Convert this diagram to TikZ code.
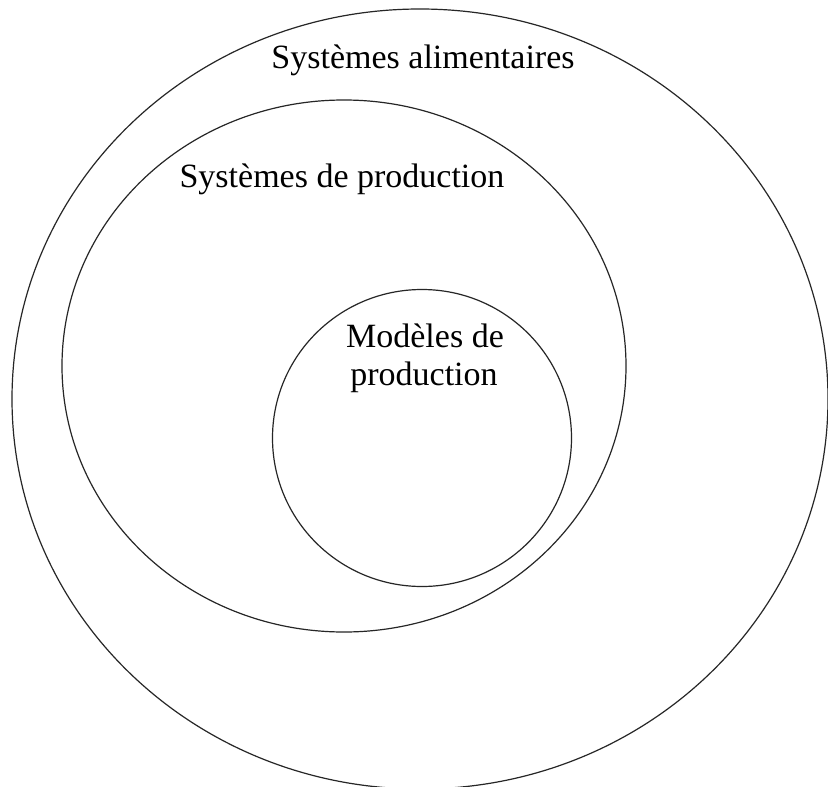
\documentclass[tikz,border=0pt]{standalone}
\usepackage{fontspec}
\setmainfont{Liberation Serif}
\usetikzlibrary{shapes.geometric}
\begin{document}
\begin{tikzpicture}[x=1pt,y=-1pt,
  ring/.style={draw=black!85,ellipse,line width=1.2pt,inner sep=0pt},
  lbl/.style={font=\fontsize{34}{37}\selectfont,inner sep=0pt,anchor=base}]
\useasboundingbox[fill=white] (0,0) rectangle (828,787);
\node[ring,minimum width=816pt,minimum height=780pt] (outer) at (420,399) {};
\node[ring,minimum width=564pt,minimum height=532pt] (mid) at (344,366) {};
\node[ring,minimum width=299pt,minimum height=297pt] (inner) at (422,438) {};
\node[lbl] (t1) at (423,68) {Systèmes alimentaires};
\node[lbl] (t2) at (342,187) {Systèmes de production};
\node[lbl] (t3a) at (425,347) {Modèles de};
\node[lbl] (t3b) at (424,385) {production};
\end{tikzpicture}
\end{document}
